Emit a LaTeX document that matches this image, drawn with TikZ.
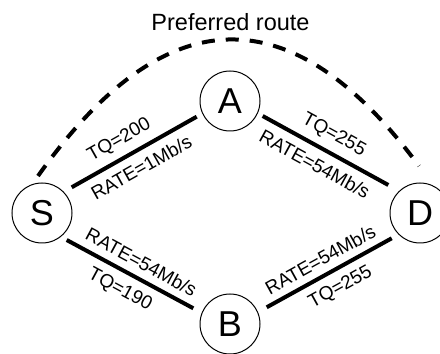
\documentclass[tikz,border=0pt]{standalone}
\usepackage{fontspec}
\setmainfont{Liberation Sans}
\begin{document}
\begin{tikzpicture}[x=1pt,y=1pt,
  station/.style={draw, circle, line width=1pt, minimum size=60pt, inner sep=0pt,
    font=\fontsize{36}{40}\selectfont},
  link/.style={line width=4pt},
  route/.style={line width=4pt, dash pattern=on 13pt off 11pt},
  tag/.style={sloped, inner sep=0pt, font=\fontsize{19}{22}\selectfont},
  tagabove/.style={tag, above=7pt},
  tagbelow/.style={tag, below=8pt},
  heading/.style={font=\fontsize{23.5}{27}\selectfont, inner sep=0pt, anchor=base}]
\useasboundingbox (0,0) rectangle (440,354);

% stations
\node[station] (S) at (42,141) {S};
\node[station] (A) at (230,253) {A};
\node[station] (B) at (230,30) {B};
\node[station] (D) at (420,141) {D};

% link ends, set slightly off the circles
\coordinate (sa1) at ([shift={(29.7,25.7)}]S.center);
\coordinate (sa2) at ([shift={(-33.3,-15.7)}]A.center);
\coordinate (ad1) at ([shift={(32.7,-15)}]A.center);
\coordinate (ad2) at ([shift={(-31.7,28)}]D.center);
\coordinate (sb1) at ([shift={(24.7,-27)}]S.center);
\coordinate (sb2) at ([shift={(-36.7,15.7)}]B.center);
\coordinate (bd1) at ([shift={(36.7,16.7)}]B.center);
\coordinate (bd2) at ([shift={(-28.3,-25.3)}]D.center);

% links with their labels
\draw[link] (sa1) -- node[tagabove, pos=0.45] {TQ=200} node[tagbelow, pos=0.49] {RATE=1Mb/s} (sa2);
\draw[link] (ad1) -- node[tagabove] {TQ=255} node[tagbelow, pos=0.48] {RATE=54Mb/s} (ad2);
\draw[link] (sb1) -- node[tagabove, pos=0.53] {RATE=54Mb/s} node[tagbelow, pos=0.49] {TQ=190} (sb2);
\draw[link] (bd1) -- node[tagabove, pos=0.49] {RATE=54Mb/s} node[tagbelow, pos=0.52] {TQ=255} (bd2);

% preferred route over A
\coordinate (routeL) at ([shift={(-4,37)}]S.center);
\coordinate (routeR) at ([shift={(-1,47)}]D.center);
\draw[route] (routeL) .. controls (164.7,356.7) and (291.7,360) .. (routeR);
\node[heading] (title) at (230.5,323.3) {Preferred route};
\end{tikzpicture}
\end{document}
